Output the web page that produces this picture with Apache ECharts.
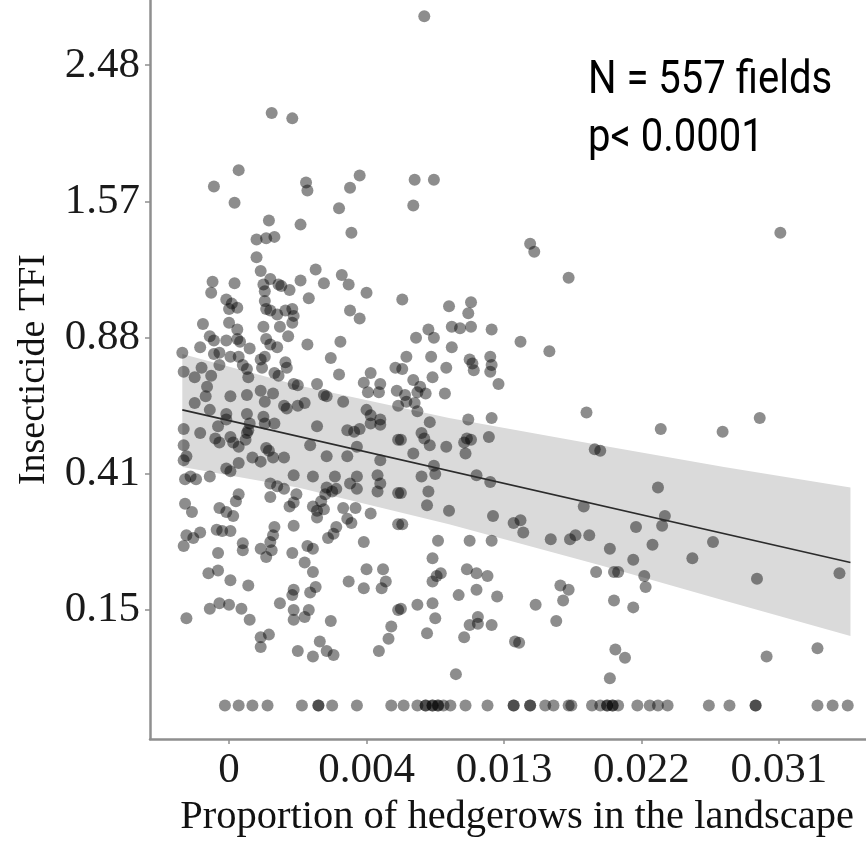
<!DOCTYPE html>
<html>
<head>
<meta charset="utf-8">
<script src="https://cdn.jsdelivr.net/npm/echarts@6/dist/echarts.min.js"></script>
<style>
html,body{margin:0;padding:0;background:#fff;}
#chart{width:866px;height:843px;}
</style>
</head>
<body>
<div id="chart"></div>
<script>
// Axis tick labels (axes are drawn on a transformed scale: one unit per labelled break)
const xTickLabels = ['0', '0.004', '0.013', '0.022', '0.031'];
const yTickLabels = ['0.15', '0.41', '0.88', '1.57', '2.48'];
const tickPositions = [0, 1, 2, 3, 4];

// Fields with high TFI (upper part of the cloud)  [hedgerow position, TFI position]
const fieldsHigh = [
[0.31,3.65],[0.46,3.61],[0.07,3.23],[-0.11,3.11],[0.04,2.99],[0.56,3.14],[0.57,3.08],[0.95,3.19],[0.88,3.10],[0.80,2.95],
[0.29,2.86],[0.52,2.83],[0.89,2.77],[0.20,2.72],[0.27,2.73],[0.33,2.74],[0.20,2.59],[0.23,2.49],[0.30,2.43],[0.36,2.39],
[0.63,2.50],[0.82,2.46],[-0.12,2.41],[0.04,2.40],[0.52,2.42],[0.69,2.40],[0.87,2.39],
[1.42,4.36],[1.35,3.16],[1.49,3.16],[1.34,2.97],[2.19,2.69],[2.22,2.63],[2.47,2.44],[1.60,2.23],[1.76,2.26],[1.74,2.18],
[1.62,2.08],[1.68,2.07],[1.76,2.08],[1.91,2.06],[1.45,2.06],[1.49,2.00],[1.36,2.00],[1.62,1.93],[2.12,1.97],[2.33,1.90],
[1.47,1.86],[1.75,1.84],[1.77,1.81],[1.78,1.76],[1.90,1.86],[1.91,1.80],[1.90,1.75],[1.58,1.78],[1.48,1.71],[1.96,1.66],
[1.34,1.69],[1.39,1.64],[1.57,1.59]
];

// Fields in the dense middle band (low hedgerow proportion)
const fieldsMid = [
[-0.13,2.33],[0.25,2.39],[0.26,2.34],[0.38,2.38],[0.44,2.35],[1.00,2.33],[0.58,2.29],[-0.02,2.28],[0.02,2.25],[0.06,2.22],
[0.00,2.21],[0.26,2.27],[0.27,2.21],[0.30,2.20],[0.35,2.17],[0.41,2.20],[0.46,2.21],[0.47,2.16],[0.88,2.20],[0.95,2.14],
[1.26,2.28],[-0.19,2.10],[0.00,2.11],[0.06,2.06],[0.25,2.08],[0.37,2.08],[0.46,2.11],[-0.14,2.01],[-0.11,1.98],[-0.02,1.98],
[0.06,1.99],[0.08,1.97],[0.27,1.99],[0.30,1.95],[0.35,1.93],[0.43,2.01],[0.57,1.95],[0.81,1.97],[-0.34,1.89],[-0.21,1.93],
[-0.11,1.88],[-0.07,1.89],[0.01,1.86],[0.07,1.86],[0.15,1.92],[0.23,1.84],[0.26,1.86],[0.41,1.82],[0.42,1.78],[0.74,1.85],
[1.29,1.86],[-0.20,1.78],[-0.33,1.75],[-0.25,1.71],[-0.13,1.72],[-0.07,1.80],[0.10,1.80],[0.13,1.77],[0.14,1.71],[0.24,1.78],
[0.33,1.74],[0.36,1.72],[0.80,1.73],[1.21,1.78],[1.26,1.77],[1.03,1.74],[0.98,1.67],[1.01,1.60],[1.10,1.66],[1.09,1.60],
[1.22,1.61],[1.28,1.58],[0.64,1.66],[0.47,1.66],[0.50,1.65],[-0.16,1.64],[0.01,1.57],[-0.17,1.57],[-0.25,1.52],[0.13,1.58],
[0.23,1.61],[0.26,1.53],[0.32,1.59],[0.40,1.50],[0.42,1.48],[0.50,1.50],[0.55,1.52],[0.69,1.58],[0.71,1.57],[0.83,1.53],
[1.00,1.47],[1.03,1.43],[1.10,1.40],[1.23,1.50],[-0.14,1.47],[-0.33,1.33],[-0.21,1.30],[-0.08,1.35],[-0.02,1.44],[-0.02,1.40],
[0.13,1.44],[0.15,1.37],[0.14,1.32],[0.25,1.42],[0.26,1.37],[0.33,1.37],[0.64,1.35],[0.86,1.32],[0.91,1.31],[0.95,1.33],
[1.03,1.37],[1.10,1.36],[1.23,1.25],[-0.33,1.21],[-0.31,1.13],[-0.33,1.10],[-0.10,1.26],[-0.07,1.23],[0.01,1.27],[0.03,1.23],
[0.07,1.20],[0.13,1.30],[0.12,1.25],[0.27,1.19],[0.29,1.17],[0.32,1.12],[0.17,1.12],[0.40,1.12],[0.59,1.21],[0.71,1.13],
[0.86,1.13],[1.10,1.10],[0.93,1.20],[-0.28,0.98],[-0.24,0.96],[-0.32,0.96],[-0.14,0.98],[-0.02,1.04],[0.01,1.02],[0.07,1.08],
[0.23,1.09],[0.47,0.99],[0.61,0.98],[0.77,0.98],[0.93,0.98],[1.08,0.99]
];

// Fields with low TFI, low hedgerow proportion
const fieldsLow = [
[0.30,0.93],[0.35,0.91],[0.40,0.89],[0.71,0.90],[0.75,0.87],[0.88,0.93],[0.93,0.89],[1.10,0.93],[1.08,0.87],[1.23,0.86],
[-0.32,0.78],[-0.27,0.72],[-0.07,0.75],[-0.02,0.72],[0.03,0.69],[0.07,0.85],[0.05,0.80],[0.30,0.83],[0.49,0.85],[0.47,0.79],
[0.44,0.76],[0.61,0.76],[0.70,0.85],[0.67,0.80],[0.78,0.89],[0.64,0.73],[0.64,0.68],[0.69,0.74],[0.83,0.75],[0.92,0.75],
[1.03,0.71],[0.86,0.67],[0.89,0.64],[1.23,0.63],[0.78,0.61],[0.76,0.56],[0.72,0.53],[-0.31,0.55],[-0.26,0.53],[-0.21,0.57],
[-0.33,0.47],[-0.09,0.59],[-0.05,0.58],[0.01,0.58],[-0.08,0.42],[0.10,0.49],[0.10,0.44],[0.23,0.45],[0.30,0.50],[0.31,0.44],
[0.33,0.61],[0.32,0.55],[0.27,0.39],[0.47,0.62],[0.46,0.42],[0.57,0.47],[0.61,0.45],[0.98,0.50],[0.55,0.35],[0.61,0.28],
[-0.15,0.27],[-0.08,0.29],[0.01,0.22],[0.14,0.18],[1.00,0.30],[1.12,0.30],[0.87,0.21],[0.98,0.16],[1.14,0.21],[1.11,0.16],
[0.47,0.15],[0.46,0.11],[0.59,0.13],[0.63,0.17],[-0.14,0.01],[-0.07,0.05],[0.00,0.04],[0.09,0.01],[0.15,-0.07],[-0.31,-0.06],
[0.37,0.05],[0.47,0.00],[0.47,-0.07],[0.58,0.00],[0.55,-0.05],[0.74,-0.08],[1.23,0.00],[1.18,-0.12],[1.16,-0.21],[0.23,-0.20],
[0.29,-0.18],[0.23,-0.27],[0.50,-0.30],[0.61,-0.34],[0.66,-0.23],[0.71,-0.30],[0.76,-0.33],[1.09,-0.30]
];

// Fields with intermediate hedgerow proportion
const fieldsRightMid = [
[1.37,1.60],[1.43,1.59],[1.29,1.53],[1.35,1.52],[1.37,1.46],[2.60,1.45],[1.46,1.38],[1.74,1.40],[1.91,1.41],[1.40,1.30],
[1.42,1.26],[1.46,1.21],[1.73,1.26],[1.76,1.25],[1.72,1.15],[1.71,1.23],[1.89,1.27],[1.58,1.20],[1.34,1.15],[2.66,1.18],
[2.70,1.17],[1.25,1.25],[1.49,1.06],[1.50,1.00],[1.80,0.99],[1.90,0.94],[1.40,0.98],[1.45,0.87],[1.25,0.86],[1.44,0.77],
[1.60,0.73],[2.58,0.76],[1.92,0.69],[2.07,0.64],[2.12,0.66],[2.14,0.57],[1.26,0.63],[2.96,0.61],[1.52,0.51],[1.75,0.51],
[1.91,0.51],[2.34,0.52],[2.48,0.52],[2.52,0.55],[2.62,0.55],[2.77,0.45],[2.94,0.37],[1.48,0.38],[1.51,0.25],[1.48,0.21],
[1.54,0.27],[1.73,0.30],[1.80,0.27],[1.88,0.25],[2.67,0.28],[2.80,0.28],[2.83,0.28],[3.02,0.25],[1.67,0.11],[1.80,0.15],
[1.95,0.10],[2.41,0.18],[2.47,0.15],[2.43,0.07],[1.37,0.04],[1.48,0.05],[1.25,0.01],[2.23,0.04],[2.80,0.07],[2.94,0.02],
[1.50,-0.06],[1.75,-0.11],[1.81,-0.10],[1.81,-0.05],[1.91,-0.11],[2.38,-0.08],[1.44,-0.17],[1.71,-0.20],[2.08,-0.23],[2.11,-0.24],
[2.81,-0.29],[2.88,-0.35],[1.65,-0.47],[2.77,-0.50]
];

// Fields with high hedgerow proportion
const fieldsRight = [
[4.01,2.77],[3.14,1.33],[3.59,1.31],[3.86,1.41],[3.12,0.90],[3.17,0.69],[3.15,0.62],[3.08,0.48],[3.52,0.50],[3.37,0.38],
[3.03,0.17],[3.84,0.23],[4.44,0.27],[4.28,-0.28],[3.91,-0.34]
];

// Fields with zero insecticide use (bottom row)
const zeroTfiLevel = -0.70;
const zeroTfiX = [
-0.03,0.07,0.17,0.28,0.53,0.65,0.65,0.75,0.93,1.18,1.27,1.37,1.43,1.43,1.48,1.48,1.52,1.52,1.56,1.61,
1.72,1.88,2.07,2.07,2.19,2.19,2.30,2.36,2.47,2.49,2.64,2.70,2.75,2.75,2.79,2.79,2.83,2.97,3.06,3.12,
3.19,3.49,3.64,3.83,3.83,4.28,4.39,4.50
];

// Fitted regression line and its confidence band
const fitX = [-0.34, 4.52];
const fitY = [1.47, 0.35];
const bandX = [-0.34, 0.5, 1.6, 2.7, 3.6, 4.52];
const bandUpper = [1.88, 1.65, 1.41, 1.21, 1.05, 0.90];
const bandLower = [1.05, 0.90, 0.63, 0.33, 0.07, -0.19];

const allPoints = [].concat(fieldsHigh, fieldsMid, fieldsLow, fieldsRightMid, fieldsRight,
  zeroTfiX.map(x => [x, zeroTfiLevel]));

const chart = echarts.init(document.getElementById('chart'), null, {renderer: 'canvas'});
const serif = '"Liberation Serif", "Times New Roman", serif';
const axisGrey = '#8f8f8f';
const noteFont = '46px Roboto, "Open Sans", "Liberation Sans", sans-serif';

chart.setOption({
  animation: false,
  backgroundColor: '#ffffff',
  grid: {left: 150, right: 0, top: 0, bottom: 98, containLabel: false},
  xAxis: {
    type: 'value', min: -0.575, max: 4.633,
    name: 'Proportion of hedgerows in the landscape',
    nameLocation: 'middle', nameGap: 35,
    nameTextStyle: {fontFamily: serif, fontSize: 40.5, color: '#111', padding: [0, 0, 0, 18]},
    axisLine: {show: true, onZero: false, lineStyle: {color: axisGrey, width: 2.5}},
    axisTick: {show: true, customValues: tickPositions, length: 5, lineStyle: {color: axisGrey, width: 1.5}},
    axisLabel: {customValues: tickPositions, formatter: v => xTickLabels[Math.round(v)],
      fontFamily: serif, fontSize: 43, color: '#1a1a1a', margin: 10},
    splitLine: {show: false}
  },
  yAxis: {
    type: 'value', min: -0.947, max: 4.479,
    name: 'Insecticide TFI',
    nameLocation: 'middle', nameGap: 97,
    nameTextStyle: {fontFamily: serif, fontSize: 38, color: '#111'},
    axisLine: {show: true, onZero: false, lineStyle: {color: axisGrey, width: 2.5}},
    axisTick: {show: true, customValues: tickPositions, length: 5, lineStyle: {color: axisGrey, width: 1.5}},
    axisLabel: {customValues: tickPositions, formatter: v => yTickLabels[Math.round(v)],
      fontFamily: serif, fontSize: 43, color: '#1a1a1a', margin: 10},
    splitLine: {show: false}
  },
  series: [
    {
      type: 'custom',
      silent: true,
      z: 1,
      data: [[bandX[0], bandUpper[0]]],
      renderItem: function (params, api) {
        const pts = [];
        for (let i = 0; i < bandX.length; i++) pts.push(api.coord([bandX[i], bandUpper[i]]));
        for (let i = bandX.length - 1; i >= 0; i--) pts.push(api.coord([bandX[i], bandLower[i]]));
        return {type: 'polygon', shape: {points: pts}, style: {fill: '#dadada', stroke: null}};
      }
    },
    {
      type: 'scatter',
      z: 3,
      silent: true,
      symbol: 'circle',
      symbolSize: 12,
      itemStyle: {color: 'rgba(0,0,0,0.56)'},
      data: allPoints
    },
    {
      type: 'line',
      z: 4,
      silent: true,
      symbol: 'none',
      lineStyle: {color: '#2b2b2b', width: 1.6},
      data: fitX.map((x, i) => [x, fitY[i]])
    }
  ],
  graphic: [
    {type: 'text', x: 588, y: 81, scaleX: 0.87, silent: true,
     style: {text: 'N = 557 fields', fill: '#000', align: 'left', verticalAlign: 'middle', font: noteFont}},
    {type: 'text', x: 588, y: 139, scaleX: 0.87, silent: true,
     style: {text: 'p< 0.0001', fill: '#000', align: 'left', verticalAlign: 'middle', font: noteFont}}
  ]
});
</script>
</body>
</html>
